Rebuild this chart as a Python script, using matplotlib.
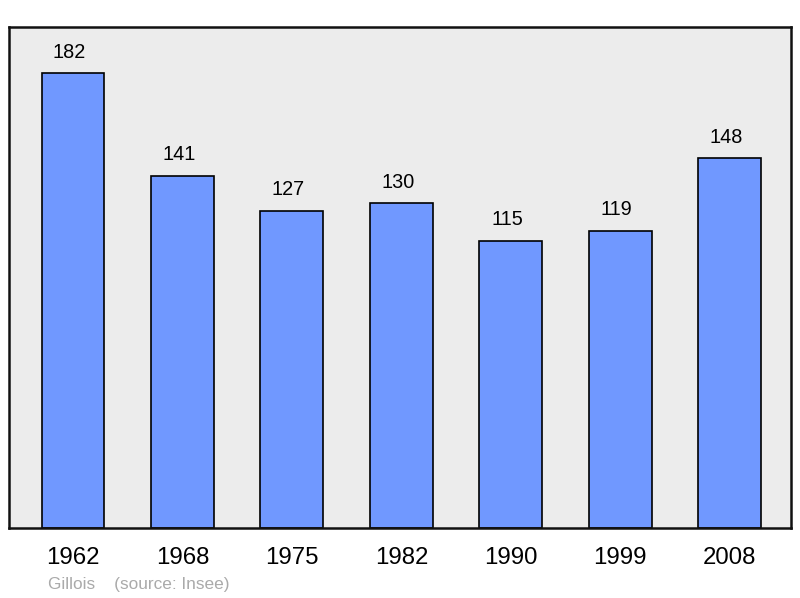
import matplotlib
matplotlib.use("Agg")
import matplotlib.pyplot as plt

plt.rcParams["font.family"] = ["Liberation Sans", "DejaVu Sans"]

years = ["1962", "1968", "1975", "1982", "1990", "1999", "2008"]
population = [182, 141, 127, 130, 115, 119, 148]

BAR_COLOR = "#7098ff"
BG_COLOR = "#ececec"

fig = plt.figure(figsize=(8.0, 5.98), dpi=100)
# axes box in pixel coordinates: x 9..791, y 27..528
ax = fig.add_axes([9 / 800, 1 - 528 / 598, 782 / 800, 501 / 598])
ax.set_facecolor(BG_COLOR)

x = list(range(len(years)))
ax.bar(x, population, width=0.575, color=BAR_COLOR, edgecolor="black",
       linewidth=1.2, zorder=2)

# value labels sit a little left of the bar centre in the original
for xi, v in zip(x, population):
    ax.annotate(str(v), (xi, v), xytext=(-2.5, 8), textcoords="offset points",
                ha="center", va="bottom", fontsize=14.3)

ax.set_xlim(-0.585, 6.56)
ax.set_ylim(0, 200.4)
ax.set_yticks([])
ax.set_xticks(x)
ax.set_xticklabels(years, fontsize=17.3)
ax.tick_params(axis="x", length=0, pad=14)

for s in ax.spines.values():
    s.set_linewidth(1.8)
    s.set_color("#111111")

fig.text(48 / 800, 1 - 584 / 598, "Gillois    (source: Insee)", color="#aaaaaa",
         fontsize=12.4, ha="left", va="center")

fig.savefig("out.png", dpi=100)
